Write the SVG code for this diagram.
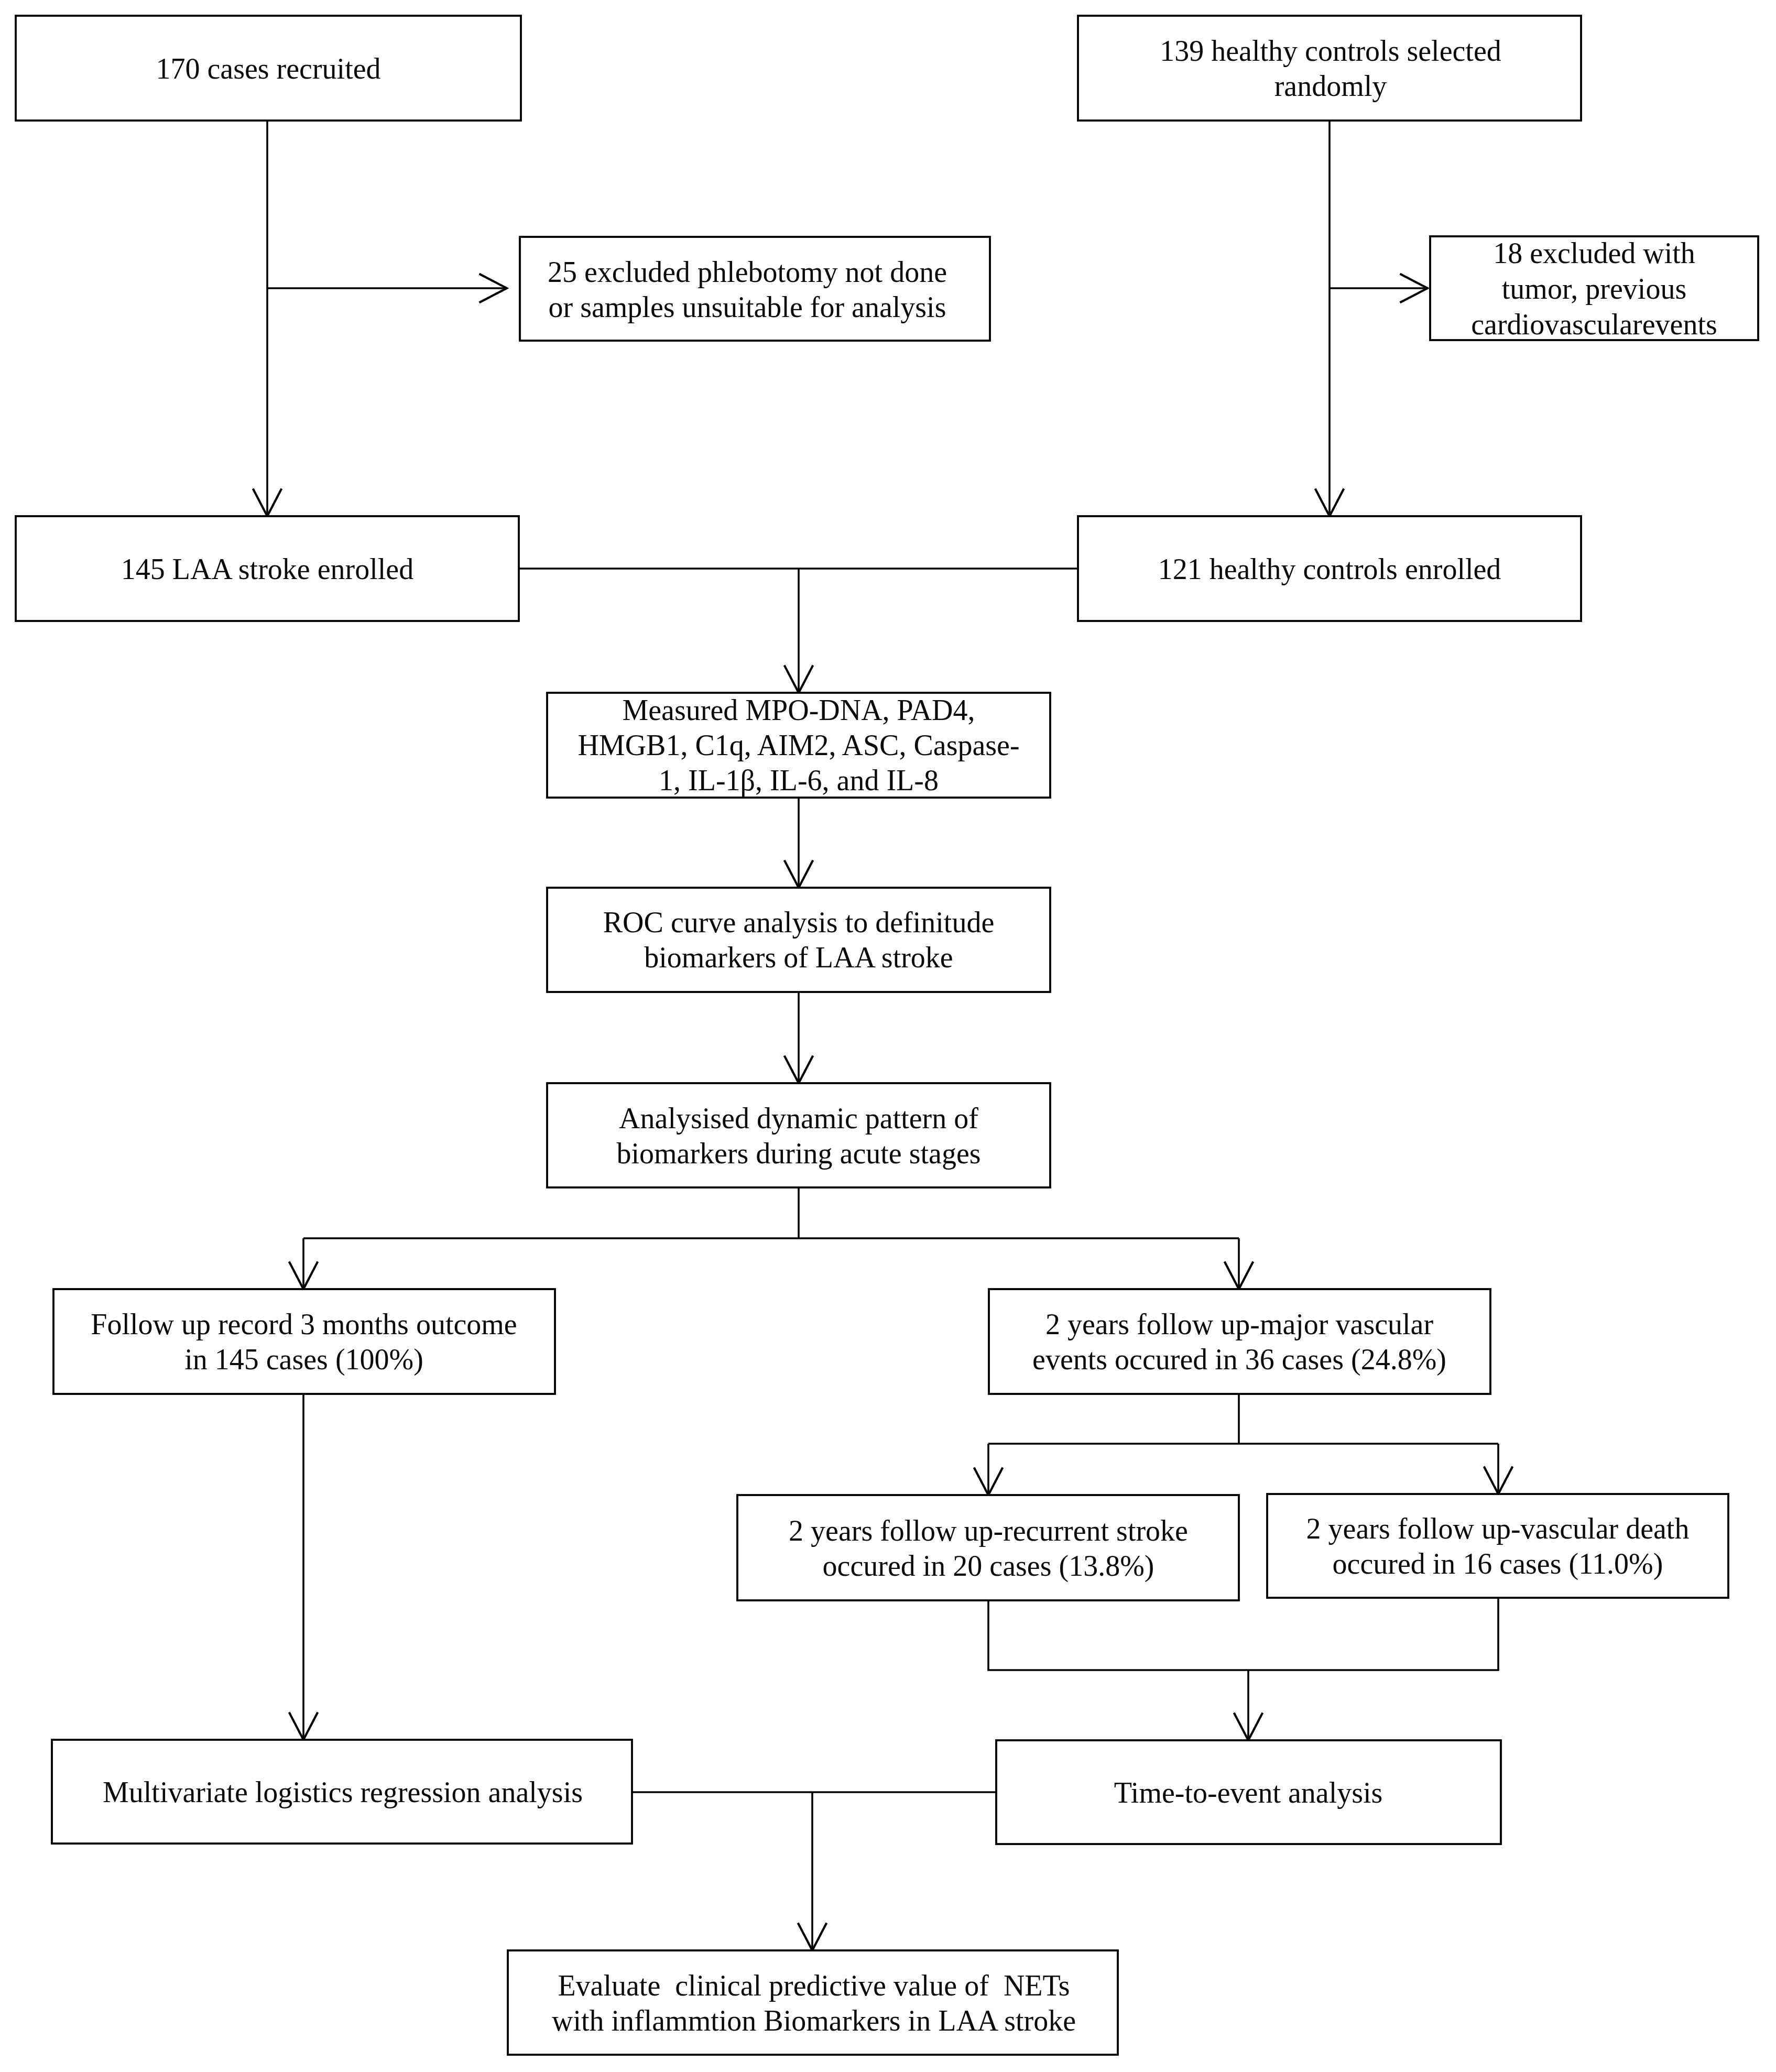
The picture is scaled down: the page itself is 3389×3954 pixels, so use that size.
<svg xmlns="http://www.w3.org/2000/svg" width="3389" height="3954" viewBox="0 0 3389 3954">
<style>
.box{fill:#fff;stroke:#000;stroke-width:3.8}
.ln{fill:none;stroke:#000;stroke-width:3.6}
.t{font-family:"Liberation Serif","Times New Roman",serif;font-size:56px;fill:#0a0a0a;text-anchor:middle;white-space:pre}
</style>
<defs>
<marker id="arr" markerUnits="userSpaceOnUse" markerWidth="70" markerHeight="70" viewBox="-55 -32 60 64" refX="0" refY="0" orient="auto" overflow="visible">
<path d="M-48,-25 L0,0 L-48,25" fill="none" stroke="#000" stroke-width="3.8"/>
</marker>
</defs>
<rect width="3389" height="3954" fill="#fff"/>
<g id="connectors">
<path class="ln" d="M510,230 V985" marker-end="url(#arr)"/>
<path class="ln" d="M510,550 H967" marker-end="url(#arr)"/>
<path class="ln" d="M2537,230 V985" marker-end="url(#arr)"/>
<path class="ln" d="M2537,550 H2724" marker-end="url(#arr)"/>
<path class="ln" d="M990,1085 H2057"/>
<path class="ln" d="M1524,1085 V1322" marker-end="url(#arr)"/>
<path class="ln" d="M1524,1522 V1694" marker-end="url(#arr)"/>
<path class="ln" d="M1524,1893 V2067" marker-end="url(#arr)"/>
<path class="ln" d="M1524,2266 V2363"/>
<path class="ln" d="M579,2363 H2364"/>
<path class="ln" d="M579,2363 V2460" marker-end="url(#arr)"/>
<path class="ln" d="M2364,2363 V2460" marker-end="url(#arr)"/>
<path class="ln" d="M2364,2660 V2755"/>
<path class="ln" d="M1886,2755 H2859"/>
<path class="ln" d="M1886,2755 V2853" marker-end="url(#arr)"/>
<path class="ln" d="M2859,2755 V2851" marker-end="url(#arr)"/>
<path class="ln" d="M1886,3054 V3187 H2859 V3049"/>
<path class="ln" d="M2382,3187 V3321" marker-end="url(#arr)"/>
<path class="ln" d="M579,2660 V3320" marker-end="url(#arr)"/>
<path class="ln" d="M1206,3420 H1901"/>
<path class="ln" d="M1550,3420 V3722" marker-end="url(#arr)"/>
</g>
<g id="n1"><rect class="box" x="30" y="30" width="964" height="200"/><text class="t" x="512" y="150">170 cases recruited</text></g>
<g id="n2"><rect class="box" x="2057" y="30" width="960" height="200"/><text class="t" x="2539" y="116">139 healthy controls selected</text><text class="t" x="2539" y="183">randomly</text></g>
<g id="n3"><rect class="box" x="992" y="452" width="897" height="198"/><text class="t" x="1426" y="538">25 excluded phlebotomy not done</text><text class="t" x="1426" y="605">or samples unsuitable for analysis</text></g>
<g id="n4"><rect class="box" x="2729" y="451" width="626" height="198"/><text class="t" x="3042" y="502">18 excluded with</text><text class="t" x="3042" y="570">tumor, previous</text><text class="t" x="3042" y="638">cardiovascularevents</text></g>
<g id="n5"><rect class="box" x="30" y="985" width="960" height="200"/><text class="t" x="510" y="1105">145 LAA stroke enrolled</text></g>
<g id="n6"><rect class="box" x="2057" y="985" width="960" height="200"/><text class="t" x="2537" y="1105">121 healthy controls enrolled</text></g>
<g id="n7"><rect class="box" x="1044" y="1322" width="960" height="200"/><text class="t" x="1524" y="1374">Measured MPO-DNA, PAD4,</text><text class="t" x="1524" y="1441">HMGB1, C1q, AIM2, ASC, Caspase-</text><text class="t" x="1524" y="1508">1, IL-1β, IL-6, and IL-8</text></g>
<g id="n8"><rect class="box" x="1044" y="1694" width="960" height="199"/><text class="t" x="1524" y="1779">ROC curve analysis to definitude</text><text class="t" x="1524" y="1846">biomarkers of LAA stroke</text></g>
<g id="n9"><rect class="box" x="1044" y="2067" width="960" height="199"/><text class="t" x="1524" y="2153">Analysised dynamic pattern of</text><text class="t" x="1524" y="2220">biomarkers during acute stages</text></g>
<g id="n10"><rect class="box" x="102" y="2460" width="957" height="200"/><text class="t" x="580" y="2546">Follow up record 3 months outcome</text><text class="t" x="580" y="2613">in 145 cases (100%)</text></g>
<g id="n11"><rect class="box" x="1887" y="2460" width="957" height="200"/><text class="t" x="2365" y="2546">2 years follow up-major vascular</text><text class="t" x="2365" y="2613">events occured in 36 cases (24.8%)</text></g>
<g id="n12"><rect class="box" x="1407" y="2853" width="957" height="201"/><text class="t" x="1886" y="2940">2 years follow up-recurrent stroke</text><text class="t" x="1886" y="3007">occured in 20 cases (13.8%)</text></g>
<g id="n13"><rect class="box" x="2418" y="2851" width="880" height="198"/><text class="t" x="2858" y="2936">2 years follow up-vascular death</text><text class="t" x="2858" y="3003">occured in 16 cases (11.0%)</text></g>
<g id="n14"><rect class="box" x="99" y="3320" width="1107" height="198"/><text class="t" x="654" y="3439">Multivariate logistics regression analysis</text></g>
<g id="n15"><rect class="box" x="1901" y="3321" width="963" height="198"/><text class="t" x="2382" y="3440">Time-to-event analysis</text></g>
<g id="n16"><rect class="box" x="969" y="3722" width="1164" height="199"/><text class="t" x="1553" y="3808">Evaluate  clinical predictive value of  NETs</text><text class="t" x="1553" y="3875">with inflammtion Biomarkers in LAA stroke</text></g>
</svg>
